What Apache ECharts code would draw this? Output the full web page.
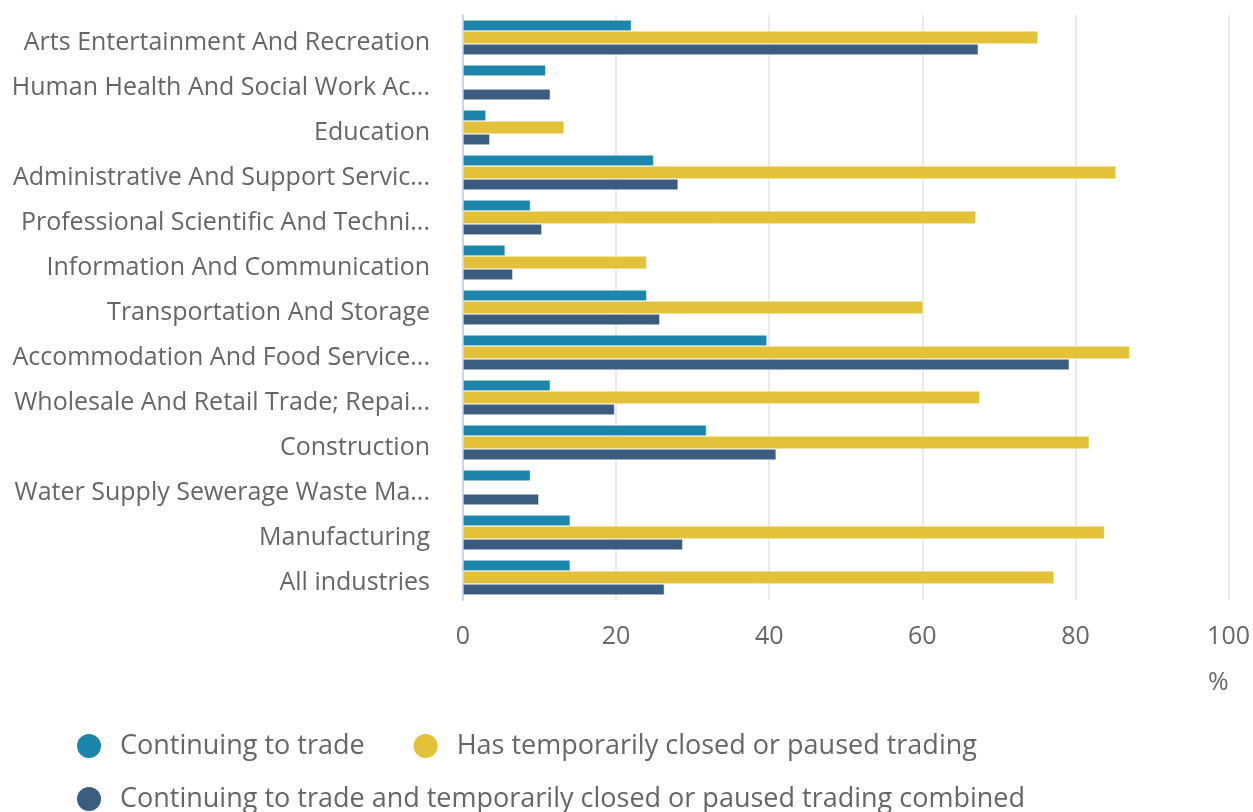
<!DOCTYPE html>
<html>
<head>
<meta charset="utf-8">
<script src="https://cdn.jsdelivr.net/npm/echarts@6/dist/echarts.min.js"></script>
<style>
  html, body { margin: 0; padding: 0; background: #fff; }
  #main { width: 1253px; height: 812px; }
</style>
</head>
<body>
<div id="main"></div>
<script>
// categories, bottom to top
var industries = [
    'All industries',
    'Manufacturing',
    'Water Supply Sewerage Waste Management And Remediation Activities',
    'Construction',
    'Wholesale And Retail Trade; Repair Of Motor Vehicles And Motorcycles',
    'Accommodation And Food Service Activities',
    'Transportation And Storage',
    'Information And Communication',
    'Professional Scientific And Technical Activities',
    'Administrative And Support Service Activities',
    'Education',
    'Human Health And Social Work Activities',
    'Arts Entertainment And Recreation'
];
var continuing = [14.0, 14.0, 8.8, 31.8, 11.4, 39.7, 24.0, 5.5, 8.8, 24.9, 3.0, 10.8, 22.0];
var paused = [77.2, 83.8, null, 81.8, 67.5, 87.1, 60.1, 24.0, 67.0, 85.3, 13.2, null, 75.1];
var combined = [26.3, 28.7, 9.9, 40.9, 19.8, 79.2, 25.7, 6.5, 10.3, 28.1, 3.5, 11.4, 67.3];
var xTicks = [0, 20, 40, 60, 80, 100];

var seriesNames = [
    'Continuing to trade',
    'Has temporarily closed or paused trading',
    'Continuing to trade and temporarily closed or paused trading combined'
];

var myChart = echarts.init(document.getElementById('main'));
var font = "'Open Sans', 'Noto Sans', sans-serif";

var option = {
    textStyle: { fontFamily: font },
    grid: { left: 463, right: 23, top: 15, bottom: 212 },
    legend: [
        {
            data: [seriesNames[0], seriesNames[1]],
            left: 70, top: 727,
            icon: 'circle', itemWidth: 52, itemHeight: 26, itemGap: 47,
            textStyle: { fontSize: 27, color: '#666666', fontFamily: font }
        },
        {
            data: [seriesNames[2]],
            left: 70, top: 780,
            icon: 'circle', itemWidth: 52, itemHeight: 26,
            textStyle: { fontSize: 27, color: '#666666', fontFamily: font }
        }
    ],
    xAxis: {
        type: 'value',
        min: xTicks[0], max: xTicks[xTicks.length - 1], interval: 20,
        name: '%',
        nameLocation: 'end',
        nameGap: 0,
        nameTextStyle: { fontSize: 25, color: '#666666', align: 'right', verticalAlign: 'top', padding: [70, 0, 0, 0] },
        axisLine: { show: false },
        axisTick: { show: false },
        axisLabel: { fontSize: 25, color: '#666666', margin: 24 },
        splitLine: { lineStyle: { color: '#e3e3e3', width: 1.5 } }
    },
    yAxis: {
        type: 'category',
        data: industries,
        axisLine: { lineStyle: { color: '#ccd6eb', width: 2 } },
        axisTick: { length: 20, lineStyle: { color: '#ccd6eb', width: 2 } },
        axisLabel: {
            fontSize: 25, color: '#666666', margin: 33,
            verticalAlign: 'top', lineHeight: 10,
            width: 422, overflow: 'truncate', ellipsis: '...'
        }
    },
    series: [
        {
            name: seriesNames[0], type: 'bar', data: continuing,
            barWidth: 11, barGap: '0%', barCategoryGap: '20%',
            itemStyle: { color: '#1b85ab', borderColor: '#ffffff', borderWidth: 0.5 }
        },
        {
            name: seriesNames[1], type: 'bar', data: paused,
            barWidth: 13, barGap: '0%',
            itemStyle: { color: '#e3c23a', borderColor: '#ffffff', borderWidth: 0.5 }
        },
        {
            name: seriesNames[2], type: 'bar', data: combined,
            barWidth: 11, barGap: '0%',
            itemStyle: { color: '#3a5d7f', borderColor: '#ffffff', borderWidth: 0.5 }
        }
    ]
};

myChart.setOption(option);
</script>
</body>
</html>
